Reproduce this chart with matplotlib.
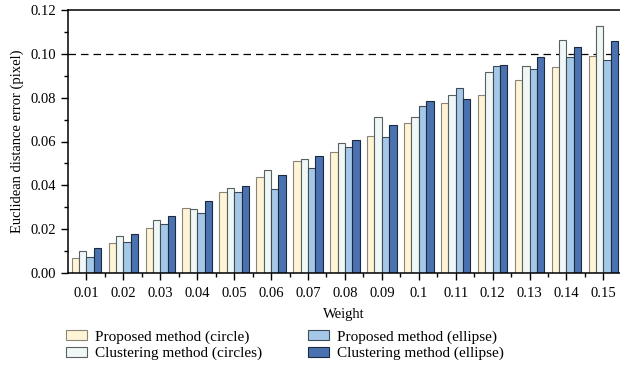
import numpy as np
import matplotlib.pyplot as plt
from matplotlib.ticker import MultipleLocator

plt.rcParams['font.family'] = ['Liberation Serif', 'DejaVu Serif']

weights = ['0.01', '0.02', '0.03', '0.04', '0.05', '0.06', '0.07', '0.08',
           '0.09', '0.1', '0.11', '0.12', '0.13', '0.14', '0.15']
proposed_circle = [0.0067, 0.0138, 0.0207, 0.0296, 0.0369, 0.0439, 0.0510, 0.0554,
                   0.0624, 0.0684, 0.0775, 0.0813, 0.0881, 0.0942, 0.0989]
clustering_circles = [0.0100, 0.0169, 0.0240, 0.0293, 0.0390, 0.0469, 0.0518, 0.0595,
                      0.0711, 0.0711, 0.0811, 0.0916, 0.0943, 0.1065, 0.1129]
proposed_ellipse = [0.0073, 0.0140, 0.0222, 0.0273, 0.0371, 0.0384, 0.0478, 0.0576,
                    0.0621, 0.0761, 0.0845, 0.0943, 0.0930, 0.0984, 0.0971]
clustering_ellipse = [0.0114, 0.0178, 0.0258, 0.0330, 0.0396, 0.0447, 0.0533, 0.0606,
                      0.0677, 0.0784, 0.0793, 0.0948, 0.0984, 0.1033, 0.1057]
threshold = 0.10

series = [
    ('Proposed method (circle)', proposed_circle, '#fff4d6', '#8a8578'),
    ('Clustering method (circles)', clustering_circles, '#f0f8f7', '#5a5f60'),
    ('Proposed method (ellipse)', proposed_ellipse, '#a6c8e8', '#3d4a58'),
    ('Clustering method (ellipse)', clustering_ellipse, '#4a72b0', '#1c2a40'),
]

fig = plt.figure(figsize=(6.2, 3.68), dpi=100)
ax = fig.add_axes([68 / 620, 1 - 273 / 368, 552 / 620, 263 / 368])

x = np.arange(len(weights))
w = 0.2
for i, (name, vals, fc, ec) in enumerate(series):
    ax.bar(x + (i - 1.5) * w, vals, width=w, color=fc, edgecolor=ec,
           linewidth=0.8, label=name, zorder=2)

ax.axhline(threshold, color='black', linestyle=(0, (6, 4)), linewidth=0.9, zorder=1)

ax.set_xlim(-0.5, 14.45)
ax.set_ylim(0, 0.12)
ax.set_xticks(x)
ax.set_xticklabels(weights)
ax.set_xticks(x[:-1] + 0.5, minor=True)
ax.yaxis.set_major_locator(MultipleLocator(0.02))
ax.yaxis.set_minor_locator(MultipleLocator(0.01))
ax.yaxis.set_major_formatter(plt.FormatStrFormatter('%.2f'))
ax.tick_params(which='major', direction='out', length=5, width=1, labelsize=10.5)
ax.tick_params(axis='x', which='major', pad=5)
ax.tick_params(which='minor', direction='out', length=3, width=1)
ax.spines['right'].set_visible(False)
for s in ['left', 'bottom', 'top']:
    ax.spines[s].set_linewidth(1.1)

ax.set_xlabel('Weight', fontsize=10.5, labelpad=6)
ax.set_ylabel('Euclidean distance error (pixel)', fontsize=10.5, labelpad=5)

fig.legend(*ax.get_legend_handles_labels(), loc='upper left',
           bbox_to_anchor=(66 / 620, 1 - 330 / 368), ncol=2, frameon=False,
           fontsize=11, handlelength=1.4, handleheight=0.65, columnspacing=3.0,
           labelspacing=0.2, handletextpad=0.5, borderpad=0, borderaxespad=0)

fig.savefig('out.png', dpi=100)
